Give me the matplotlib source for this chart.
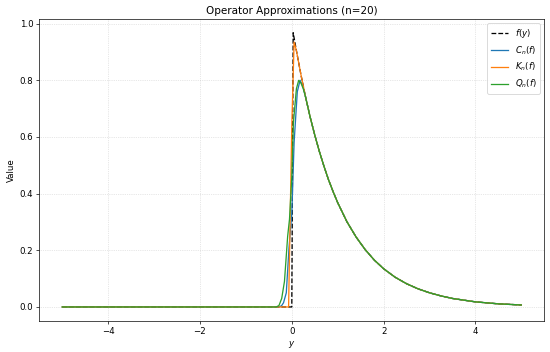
import matplotlib
matplotlib.use('Agg')
import matplotlib.pyplot as plt
import numpy as np

# values
# shared tail (all four curves coincide for y > ~0.3)
tail_y = [0.3, 0.4, 0.5, 0.6, 0.7, 0.8, 0.9, 1.0, 1.2, 1.4, 1.6, 1.8, 2.0,
          2.25, 2.5, 2.75, 3.0, 3.25, 3.5, 3.75, 4.0, 4.5, 5.0]
tail_val = [0.741, 0.670, 0.607, 0.549, 0.497, 0.449, 0.407, 0.368, 0.301,
            0.247, 0.202, 0.165, 0.135, 0.105, 0.082, 0.064, 0.050, 0.039,
            0.030, 0.024, 0.018, 0.011, 0.007]

# head parts (left side and peak)
f_y = [-5.0, 0.0, 0.03, 0.1, 0.2]
f_val = [0.0, 0.0, 0.968, 0.905, 0.819]

c_y = [-5.0, -0.27, -0.22, -0.18, -0.12, -0.06, 0.0, 0.05, 0.12, 0.18, 0.24]
c_val = [0.0, 0.0, 0.005, 0.015, 0.05, 0.21, 0.33, 0.58, 0.76, 0.80, 0.78]

k_y = [-5.0, -0.07, 0.0, 0.05, 0.1, 0.2]
k_val = [0.0, 0.0, 0.64, 0.935, 0.905, 0.819]

q_y = [-5.0, -0.34, -0.28, -0.22, -0.16, -0.09, -0.05, 0.0, 0.035, 0.1, 0.15, 0.2, 0.25]
q_val = [0.0, 0.0, 0.005, 0.03, 0.09, 0.25, 0.31, 0.46, 0.65, 0.77, 0.80, 0.79, 0.77]

series = [
    (f_y, f_val, '$f(y)$', dict(color='black', linestyle='--')),
    (c_y, c_val, '$C_n(f)$', dict(color='#1f77b4')),
    (k_y, k_val, '$K_n(f)$', dict(color='#ff7f0e')),
    (q_y, q_val, '$Q_n(f)$', dict(color='#2ca02c')),
]

fig, ax = plt.subplots(figsize=(550 / 62, 352 / 62), dpi=62)
for ys, vals, label, style in series:
    x = np.array(ys + tail_y)
    v = np.array(vals + tail_val)
    ax.plot(x, v, label=label, linewidth=1.5, **style)

ax.set_title('Operator Approximations (n=20)')
ax.set_xlabel('$y$')
ax.set_ylabel('Value')
ax.grid(True, linestyle=':', alpha=0.6)
ax.legend(loc='upper right')
fig.subplots_adjust(left=0.0715, right=0.9896, bottom=0.089, top=0.946)
fig.savefig('out.png')
